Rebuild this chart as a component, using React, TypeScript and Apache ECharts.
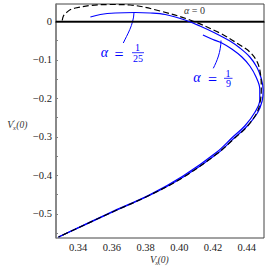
import React, { useEffect, useRef } from "react";
import * as echarts from "echarts";

const xTicks = [0.34, 0.36, 0.38, 0.4, 0.42, 0.44];
const yTicks = [0, -0.1, -0.2, -0.3, -0.4, -0.5];
const yTickMarks = [0, -0.05, -0.1, -0.15, -0.2, -0.25, -0.3, -0.35, -0.4, -0.45, -0.5, -0.55];
const xRange = [0.3269, 0.4502];
const yRange = [-0.5623, 0.0449];

// alpha = 0 (black dashed)
const curveAlpha0: [number, number][] = [
  [0.3306, 0.002], [0.3313, 0.0138], [0.3331, 0.0225], [0.3355, 0.0306], [0.3384, 0.0345],
  [0.3473, 0.041], [0.3591, 0.0436], [0.3709, 0.0423], [0.3886, 0.0267], [0.4063, 0.0034],
  [0.424, -0.0304], [0.4359, -0.0615], [0.4418, -0.0797], [0.4462, -0.1056], [0.4482, -0.1393],
  [0.4486, -0.1757], [0.4481, -0.2042], [0.4462, -0.2353], [0.44, -0.2743], [0.4329, -0.3028],
  [0.4229, -0.3417], [0.4022, -0.4053], [0.3827, -0.4507], [0.3591, -0.4974], [0.3284, -0.5597],
];

// alpha = 1/25 (blue)
const curveAlpha1of25: [number, number][] = [
  [0.3473, 0.0112], [0.3532, 0.0176], [0.362, 0.0215], [0.3738, 0.0228], [0.3827, 0.0215],
  [0.3916, 0.0176], [0.4034, 0.0034], [0.4122, -0.0122], [0.4211, -0.0304], [0.43, -0.0511],
  [0.4359, -0.0693], [0.4418, -0.0926], [0.4459, -0.1186], [0.4485, -0.1471], [0.4497, -0.1783],
  [0.4491, -0.2068], [0.4463, -0.2379], [0.4397, -0.2743], [0.4325, -0.3028], [0.423, -0.3417],
  [0.4024, -0.404], [0.3828, -0.4507], [0.3592, -0.4974], [0.3284, -0.5597],
];

// alpha = 1/9 (blue)
const curveAlpha1of9: [number, number][] = [
  [0.414, -0.0355], [0.4199, -0.0472], [0.4252, -0.0563], [0.4311, -0.0719], [0.4371, -0.0926],
  [0.4418, -0.116], [0.4455, -0.1445], [0.4477, -0.1757], [0.4477, -0.2042], [0.4449, -0.2353],
  [0.4388, -0.2717], [0.4317, -0.3002], [0.4223, -0.3392], [0.4022, -0.4014], [0.3827, -0.4494],
  [0.3591, -0.4961], [0.3284, -0.5597],
];

const zeroLine: [number, number][] = [
  [xRange[0], 0],
  [xRange[1], 0],
];

const SERIF = "Times New Roman";
const BLUE = "#0000ff";

export default function App() {
  const ref = useRef<HTMLDivElement>(null);
  useEffect(() => {
    if (!ref.current) return;
    const chart = echarts.init(ref.current, undefined, { renderer: "svg" });
    const txt = (text: string, x: number, y: number, size: number, color: string, italic = false, align = "center") => ({
      type: "text",
      x,
      y,
      silent: true,
      style: {
        text,
        fill: color,
        fontFamily: SERIF,
        fontSize: size,
        fontStyle: italic ? "italic" : "normal",
        align,
        verticalAlign: "middle",
      },
    });
    const ln = (x1: number, y1: number, x2: number, y2: number, color: string, w: number) => ({
      type: "line",
      silent: true,
      shape: { x1, y1, x2, y2 },
      style: { stroke: color, lineWidth: w },
    });
    chart.setOption({
      animation: false,
      textStyle: { fontFamily: SERIF },
      grid: {
        left: 56,
        right: 6,
        top: 4,
        bottom: 30,
        show: true,
        borderColor: "#444",
        borderWidth: 1,
      },
      xAxis: {
        type: "value",
        min: xRange[0],
        max: xRange[1],
        splitLine: { show: false },
        axisLine: { show: true, lineStyle: { color: "#111", width: 1.5 } },
        axisTick: { show: false },
        axisLabel: {
          customValues: xTicks,
          formatter: (v: number) => v.toFixed(2),
          color: "#222",
          fontFamily: SERIF,
          fontSize: 10.5,
          margin: 4,
        },
      },
      yAxis: {
        type: "value",
        min: yRange[0],
        max: yRange[1],
        splitLine: { show: false },
        axisLine: { show: true, lineStyle: { color: "#808080", width: 1.5 } },
        axisTick: {
          show: true,
          inside: true,
          length: 2,
          customValues: yTickMarks,
          lineStyle: { color: "#808080", width: 1 },
        },
        axisLabel: {
          customValues: yTicks,
          formatter: (v: number) => (Math.abs(v) < 1e-9 ? "0" : "\u2212" + Math.abs(v).toFixed(1)),
          color: "#222",
          fontFamily: SERIF,
          fontSize: 10.5,
          margin: 4,
        },
      },
      series: [
        {
          type: "line",
          data: zeroLine,
          symbol: "none",
          lineStyle: { color: "#000", width: 1.3 },
          z: 2,
        },
        {
          type: "line",
          data: curveAlpha1of9,
          symbol: "none",
          smooth: 0.35,
          lineStyle: { color: BLUE, width: 1.2 },
          z: 3,
        },
        {
          type: "line",
          data: curveAlpha1of25,
          symbol: "none",
          smooth: 0.35,
          lineStyle: { color: BLUE, width: 1.2 },
          z: 3,
        },
        {
          type: "line",
          data: curveAlpha0,
          symbol: "none",
          smooth: 0.35,
          lineStyle: { color: "#000", width: 1.2, type: [6, 3] },
          z: 4,
        },
      ],
      graphic: [
        {
          type: "text",
          x: 194.5,
          y: 10,
          silent: true,
          style: {
            text: "{a|α} = 0",
            fill: "#333",
            fontFamily: SERIF,
            fontSize: 10,
            align: "center",
            verticalAlign: "middle",
            rich: { a: { fontStyle: "italic", fontSize: 10, fontFamily: SERIF, fill: "#333" } },
          },
        },
        txt("α", 104.5, 52.5, 14, BLUE, true),
        txt("=", 119, 54, 16, BLUE),
        txt("1", 137.5, 47, 10, BLUE),
        ln(132, 52.7, 144, 52.7, BLUE, 0.8),
        txt("25", 138, 58.8, 10, BLUE),
        {
          type: "bezierCurve",
          silent: true,
          shape: { x1: 134, y1: 12.5, x2: 123.3, y2: 43, cpx1: 133.5, cpy1: 25, cpx2: 127, cpy2: 35 },
          style: { stroke: BLUE, lineWidth: 1, fill: null },
        },
        txt("α", 197, 77.5, 14, BLUE, true),
        txt("=", 212.5, 79, 16, BLUE),
        txt("1", 228, 73.3, 10, BLUE),
        ln(224, 78.3, 232.5, 78.3, BLUE, 0.8),
        txt("9", 228.5, 83.8, 10, BLUE),
        {
          type: "bezierCurve",
          silent: true,
          shape: { x1: 221, y1: 40.5, x2: 213.3, y2: 68.3, cpx1: 220.8, cpy1: 52, cpx2: 217, cpy2: 61 },
          style: { stroke: BLUE, lineWidth: 1, fill: null },
        },
        txt("V", 10.3, 124.5, 10, "#333", true),
        txt("\u2032", 14.3, 121.5, 7, "#333"),
        txt("x", 14.5, 127.5, 6.5, "#333", true),
        txt("(0)", 21.8, 124.5, 9.5, "#333", true),
        txt("V", 153, 259.5, 10, "#333", true),
        txt("x", 156.6, 262.3, 6.5, "#333", true),
        txt("(0)", 163.2, 259.5, 9.5, "#333", true),
      ],
    });
    return () => chart.dispose();
  }, []);
  return (
    <div
      ref={ref}
      style={{ position: "fixed", left: 0, top: 0, width: 270, height: 268, background: "#fff" }}
    />
  );
}
